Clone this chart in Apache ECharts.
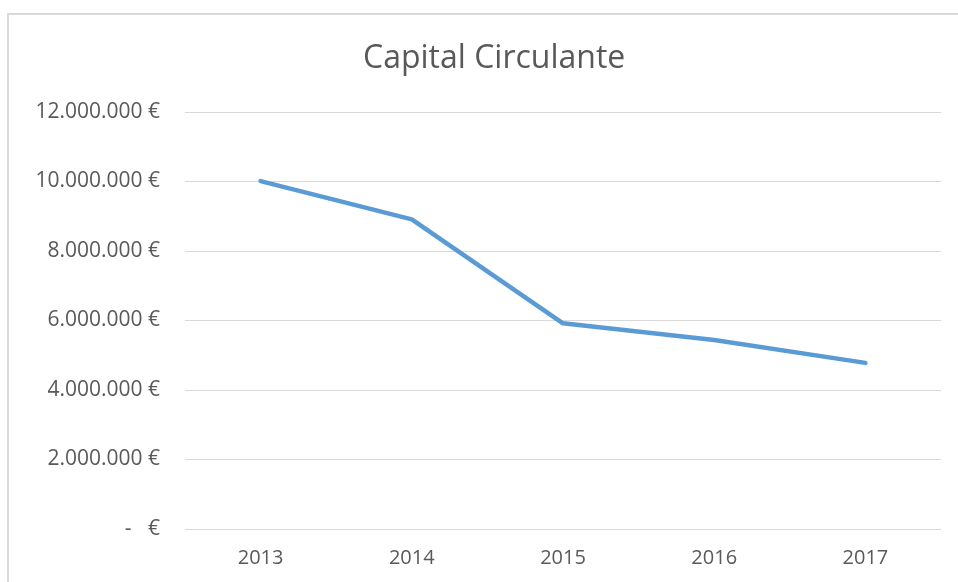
<!DOCTYPE html>
<html>
<head>
<meta charset="utf-8">
<script src="https://cdn.jsdelivr.net/npm/echarts@6/dist/echarts.min.js"></script>
<style>
html, body { margin: 0; padding: 0; background: #fff; }
#c_chart { width: 958px; height: 582px; }
</style>
</head>
<body>
<div id="c_chart"></div>
<script>
var years = ['2013', '2014', '2015', '2016', '2017'];
var capital = [10010000, 8910000, 5920000, 5440000, 4780000];
var yTicks = [0, 2000000, 4000000, 6000000, 8000000, 10000000, 12000000];

var dm = document.getElementById('c_chart');
var ch = echarts.init(dm);

function euro(v) {
    if (v === 0) return '-   €';
    return String(v).replace(/\B(?=(\d{3})+(?!\d))/g, '.') + ' €';
}

var option = {
    animation: false,
    textStyle: { fontFamily: 'Open Sans' },
    title: {
        text: 'Capital Circulante',
        left: 358,
        top: 38,
        textStyle: { fontSize: 32, fontWeight: 'normal', color: '#595959', fontFamily: 'Open Sans' }
    },
    graphic: [{
        type: 'rect',
        shape: { x: 8, y: 14, width: 1000, height: 1000 },
        style: { fill: 'none', stroke: '#d9d9d9', lineWidth: 2 },
        silent: true
    }],
    grid: { left: 185, right: 17, top: 112, bottom: 53 },
    xAxis: {
        type: 'category',
        data: years,
        boundaryGap: true,
        axisLine: { show: false },
        axisTick: { show: false },
        axisLabel: { color: '#595959', fontSize: 20, margin: 19 }
    },
    yAxis: {
        type: 'value',
        min: yTicks[0],
        max: yTicks[yTicks.length - 1],
        interval: 2000000,
        axisLine: { show: false },
        axisTick: { show: false },
        splitLine: { lineStyle: { color: '#d9d9d9', width: 1 } },
        axisLabel: { color: '#595959', fontSize: 21, margin: 25, formatter: euro }
    },
    series: [{
        name: 'Capital Circulante',
        type: 'line',
        data: capital,
        symbol: 'none',
        lineStyle: { color: '#5b9bd5', width: 4.5, cap: 'round', join: 'round' }
    }]
};

ch.setOption(option);
window.onresize = function () { ch.resize(); };
</script>
</body>
</html>
